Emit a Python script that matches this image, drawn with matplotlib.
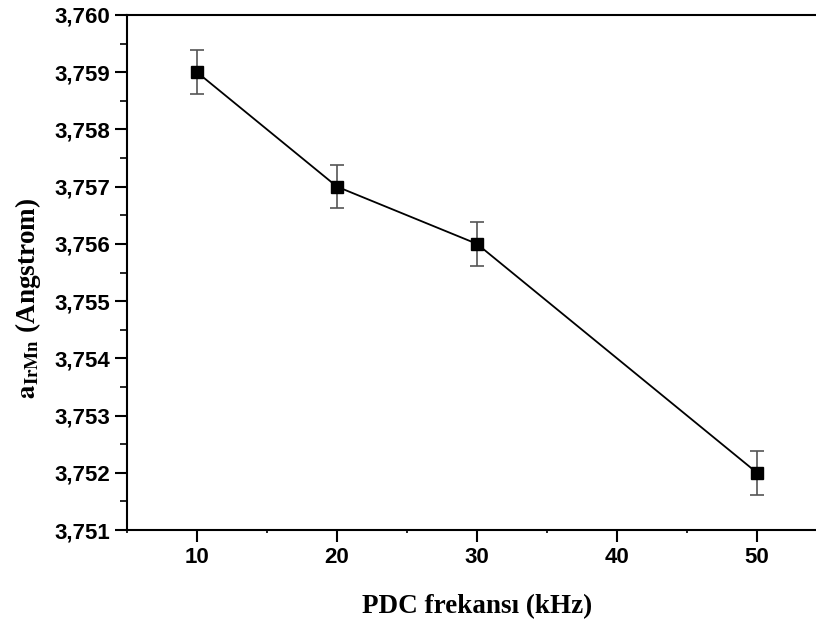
import matplotlib
matplotlib.use('Agg')
import matplotlib.pyplot as plt
from matplotlib.ticker import FuncFormatter, MultipleLocator, AutoMinorLocator

freq = [10, 20, 30, 50]
lattice = [3.759, 3.757, 3.756, 3.752]
err = [0.00038, 0.00038, 0.00038, 0.00038]

plt.rcParams['mathtext.fontset'] = 'stix'

fig = plt.figure(figsize=(8.16, 6.28), dpi=100)
ax = fig.add_axes([127/816, 1 - 530/628, 700/816, 515/628])

ax.errorbar(freq, lattice, yerr=err, color='black', marker='s', markersize=8,
            linewidth=1.3, ecolor='#555555', elinewidth=1.2, capsize=5, capthick=1.2)

ax.set_xlim(5, 55)
ax.set_ylim(3.751, 3.760)
ax.xaxis.set_major_locator(MultipleLocator(10))
ax.xaxis.set_minor_locator(AutoMinorLocator(2))
ax.yaxis.set_major_locator(MultipleLocator(0.001))
ax.yaxis.set_minor_locator(AutoMinorLocator(2))
ax.yaxis.set_major_formatter(FuncFormatter(lambda v, p: f'{v:.3f}'.replace('.', ',')))

for s in ax.spines.values():
    s.set_linewidth(1.5)
ax.tick_params(which='major', direction='out', length=8.5, width=1.5, pad=3.5)
ax.tick_params(which='minor', direction='out', length=5, width=1.2)
ax.tick_params(axis='x', which='minor', length=2)
for lab in ax.get_xticklabels() + ax.get_yticklabels():
    lab.set_fontfamily('Liberation Sans')
    lab.set_fontweight('bold')
    lab.set_fontsize(16)

ax.set_xlabel('PDC frekansı (kHz)', family='Liberation Serif', fontweight='bold',
              fontsize=19.5, labelpad=19)
ax.set_ylabel(r'$\mathbf{a_{IrMn}}$ (Angstrom)', family='Liberation Serif',
              fontweight='bold', fontsize=19.5)
ax.yaxis.set_label_coords(-0.12, 0.45)

fig.savefig('out.png', dpi=100)
